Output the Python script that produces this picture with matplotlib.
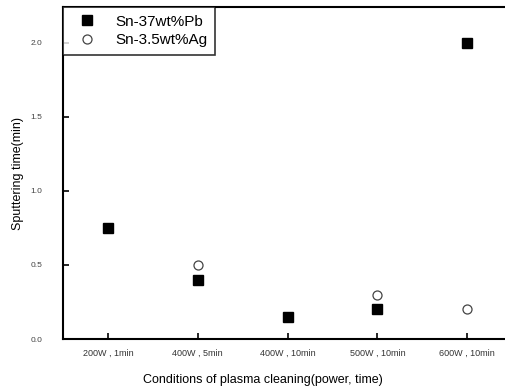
import numpy as np
import matplotlib
matplotlib.use('Agg')
import matplotlib.pyplot as plt

plt.rcParams['font.family'] = ['Liberation Sans', 'DejaVu Sans']

conditions = ['200W , 1min', '400W , 5min', '400W , 10min', '500W , 10min', '600W , 10min']
sn_pb = [0.75, 0.40, 0.15, 0.20, 2.00]
sn_ag = [np.nan, 0.50, np.nan, 0.30, 0.20]

fig = plt.figure(figsize=(5.05, 3.92), dpi=100)
ax = fig.add_axes([0.125, 0.135, 0.88, 0.847])

x = np.arange(len(conditions))
ax.plot(x, sn_pb, ls='none', marker='s', ms=7, color='black', label='Sn-37wt%Pb')
ax.plot(x, sn_ag, ls='none', marker='o', ms=6.5, mfc='white', mec='#444444',
        mew=0.9, label='Sn-3.5wt%Ag')

ax.set_xlim(-0.5, 4.45)
ax.set_ylim(0, 2.24)
ax.set_xticks(x)
ax.set_xticklabels(conditions, fontsize=6.5, color='#333333')
ax.set_yticks([0.0, 0.5, 1.0, 1.5, 2.0])
ax.set_yticklabels(['0.0', '0.5', '1.0', '1.5', '2.0'], fontsize=6, color='#444444')
ax.tick_params(direction='in', length=4, width=1.2)
ax.tick_params(axis='x', pad=7)
ax.tick_params(axis='y', pad=15)

for s in ax.spines.values():
    s.set_linewidth(1.5)

ax.set_xlabel('Conditions of plasma cleaning(power, time)', fontsize=9)
ax.xaxis.set_label_coords(0.45, -0.105)
ax.set_ylabel('Sputtering time(min)', fontsize=9)
ax.yaxis.set_label_coords(-0.088, 0.5)

leg = ax.legend(loc='upper left', fontsize=11, frameon=True, fancybox=False,
                borderaxespad=0, handlelength=2.1, handletextpad=0.8,
                borderpad=0.5, labelspacing=0.3)
leg.get_frame().set_edgecolor('black')
leg.get_frame().set_linewidth(1.2)

plt.savefig('out.png', dpi=100)
